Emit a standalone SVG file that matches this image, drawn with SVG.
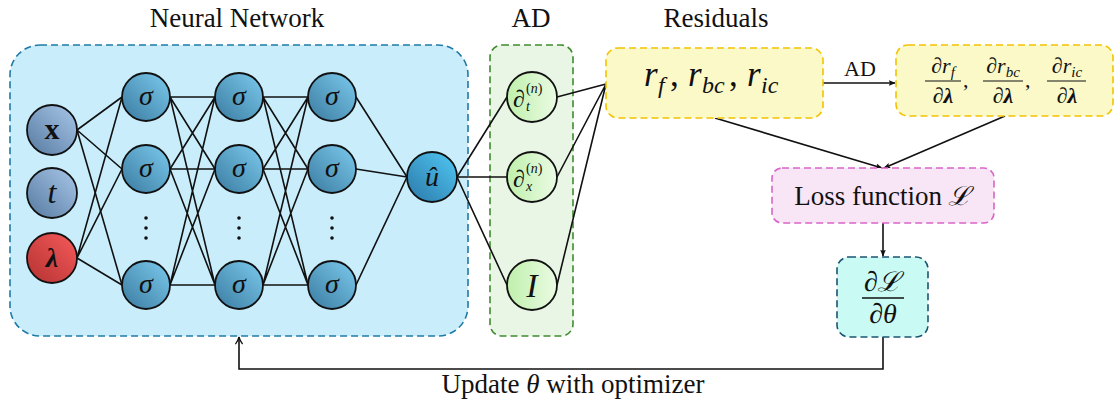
<svg xmlns="http://www.w3.org/2000/svg" width="1115" height="403" viewBox="0 0 1115 403" font-family="'Liberation Serif', Tinos, 'Nimbus Roman', 'Times New Roman', Times, FreeSerif, 'Noto Serif', 'DejaVu Serif', serif">
  <style>
    text { font-family: "Liberation Serif", Tinos, "Nimbus Roman", "Times New Roman", Times, FreeSerif, "Noto Serif", "DejaVu Serif", serif; fill: #111; }
    .title { font-size: 27px; text-anchor: middle; }
    .math { font-style: italic; }
    .node { stroke: #111; stroke-width: 1.8; }
    .edge { stroke: #111; stroke-width: 1.6; fill: none; }
    .nnbox { fill: #c9edfb; stroke: #1f7aa6; stroke-width: 1.6; stroke-dasharray: 7 4; }
    .adbox { fill: #e9f6e5; stroke: #3f8a2f; stroke-width: 1.6; stroke-dasharray: 7 4; }
    .resbox { fill: #fbf9c8; stroke: #f3c200; stroke-width: 1.6; stroke-dasharray: 7 4; }
    .lossbox { fill: #f8e5f5; stroke: #d964c9; stroke-width: 1.6; stroke-dasharray: 7 4; }
    .gradbox { fill: #c9fbf4; stroke: #1b5470; stroke-width: 1.6; stroke-dasharray: 7 4; }
  </style>
  <defs>
    <linearGradient id="gSigma" x1="1" y1="0" x2="0" y2="1">
      <stop offset="0" stop-color="#7ccbee"/>
      <stop offset="1" stop-color="#3a7aa0"/>
    </linearGradient>
    <linearGradient id="gIn" x1="1" y1="0" x2="0" y2="1">
      <stop offset="0" stop-color="#a9c8ea"/>
      <stop offset="1" stop-color="#56799f"/>
    </linearGradient>
    <linearGradient id="gLam" x1="1" y1="0" x2="0" y2="1">
      <stop offset="0" stop-color="#f65a5a"/>
      <stop offset="1" stop-color="#b43232"/>
    </linearGradient>
    <linearGradient id="gOut" x1="1" y1="0" x2="0" y2="1">
      <stop offset="0" stop-color="#52c8f4"/>
      <stop offset="1" stop-color="#2a78a8"/>
    </linearGradient>
    <linearGradient id="gAD" x1="0" y1="0" x2="1" y2="0">
      <stop offset="0" stop-color="#bff0ac"/>
      <stop offset="1" stop-color="#ebfbe4"/>
    </linearGradient>
    <marker id="arrowFill" viewBox="0 0 10 10" refX="9" refY="5" markerWidth="7" markerHeight="7" markerUnits="userSpaceOnUse" orient="auto">
      <path d="M0,1 L10,5 L0,9 L2,5 Z" fill="#111"/>
    </marker>
    <marker id="arrowOpen" viewBox="0 0 10 10" refX="9" refY="5" markerWidth="9" markerHeight="9" markerUnits="userSpaceOnUse" orient="auto">
      <path d="M1,1 Q5,4 9,5 Q5,6 1,9" fill="none" stroke="#111" stroke-width="1.4"/>
    </marker>
  </defs>

  <!-- section titles -->
  <text class="title" x="237" y="27">Neural Network</text>
  <text class="title" x="531" y="27">AD</text>
  <text class="title" x="716" y="27">Residuals</text>

  <!-- background panels -->
  <g id="nn-panel"><rect class="nnbox" x="10" y="45" width="458" height="291" rx="30"/></g>
  <g id="ad-panel"><rect class="adbox" x="490" y="45" width="83" height="291" rx="12"/></g>

  <!-- connectors -->
  <g id="connectors">
    <!-- inputs to hidden layer 1 -->
    <path class="edge" d="M77,130 L122,97 M77,130 L122,169 M77,130 L122,285"/>
    <path class="edge" d="M77,258 L122,97 M77,258 L122,169 M77,258 L122,285"/>
    <!-- hidden layer 1 to hidden layer 2 -->
    <path class="edge" d="M170,97 L215,97 M170,97 L215,169 M170,97 L215,285
                          M170,169 L215,97 M170,169 L215,169 M170,169 L215,285
                          M170,285 L215,97 M170,285 L215,169 M170,285 L215,285"/>
    <!-- hidden layer 2 to hidden layer 3 -->
    <path class="edge" d="M263,97 L308,97 M263,97 L308,169 M263,97 L308,285
                          M263,169 L308,97 M263,169 L308,169 M263,169 L308,285
                          M263,285 L308,97 M263,285 L308,169 M263,285 L308,285"/>
    <!-- hidden layer 3 to output -->
    <path class="edge" d="M356,97 L407,177 M356,169 L407,177 M356,285 L407,177"/>
    <!-- output to AD operators -->
    <path class="edge" d="M457,177 L507,97 M457,177 L507,177 M457,177 L507,285"/>
    <!-- AD operators to residuals -->
    <path class="edge" d="M557,97 L606,84 M557,177 L606,84 M557,285 L606,84"/>
    <!-- residuals to derivatives -->
    <path class="edge" d="M823,83 L895,83" marker-end="url(#arrowFill)"/>
    <text x="860" y="76" font-size="22" text-anchor="middle">AD</text>
    <!-- into loss -->
    <path class="edge" d="M715,118 L882,168" marker-end="url(#arrowFill)"/>
    <path class="edge" d="M1005,116 L884,168" marker-end="url(#arrowFill)"/>
    <path class="edge" d="M883,223 L883,256" marker-end="url(#arrowFill)"/>
    <!-- feedback to network -->
    <path class="edge" d="M883,337 V369 H239 V337" marker-end="url(#arrowOpen)"/>
    <text x="573" y="393" font-size="27" text-anchor="middle">Update <tspan class="math">θ</tspan> with optimizer</text>
  </g>

  <!-- input layer -->
  <g id="in-x"><circle class="node" cx="52" cy="130" r="25" fill="url(#gIn)"/>
    <text x="52" y="139" font-size="30" font-weight="bold" text-anchor="middle">x</text></g>
  <g id="in-t"><circle class="node" cx="52" cy="193" r="25" fill="url(#gIn)"/>
    <text class="math" x="52" y="203" font-size="32" text-anchor="middle">t</text></g>
  <g id="in-lambda"><circle class="node" cx="52" cy="258" r="25" fill="url(#gLam)"/>
    <text class="math" x="52" y="267" font-size="28" font-weight="bold" text-anchor="middle">λ</text></g>

  <!-- hidden layer 1 -->
  <g id="h1-1"><circle class="node" cx="146" cy="97" r="24" fill="url(#gSigma)"/><text class="math" x="146" y="105" font-size="28" text-anchor="middle">σ</text></g>
  <g id="h1-2"><circle class="node" cx="146" cy="169" r="24" fill="url(#gSigma)"/><text class="math" x="146" y="177" font-size="28" text-anchor="middle">σ</text></g>
  <g id="h1-dots"><circle cx="146" cy="218" r="1.8" fill="#111"/><circle cx="146" cy="228" r="1.8" fill="#111"/><circle cx="146" cy="238" r="1.8" fill="#111"/></g>
  <g id="h1-3"><circle class="node" cx="146" cy="285" r="24" fill="url(#gSigma)"/><text class="math" x="146" y="293" font-size="28" text-anchor="middle">σ</text></g>

  <!-- hidden layer 2 -->
  <g id="h2-1"><circle class="node" cx="239" cy="97" r="24" fill="url(#gSigma)"/><text class="math" x="239" y="105" font-size="28" text-anchor="middle">σ</text></g>
  <g id="h2-2"><circle class="node" cx="239" cy="169" r="24" fill="url(#gSigma)"/><text class="math" x="239" y="177" font-size="28" text-anchor="middle">σ</text></g>
  <g id="h2-dots"><circle cx="239" cy="218" r="1.8" fill="#111"/><circle cx="239" cy="228" r="1.8" fill="#111"/><circle cx="239" cy="238" r="1.8" fill="#111"/></g>
  <g id="h2-3"><circle class="node" cx="239" cy="285" r="24" fill="url(#gSigma)"/><text class="math" x="239" y="293" font-size="28" text-anchor="middle">σ</text></g>

  <!-- hidden layer 3 -->
  <g id="h3-1"><circle class="node" cx="332" cy="97" r="24" fill="url(#gSigma)"/><text class="math" x="332" y="105" font-size="28" text-anchor="middle">σ</text></g>
  <g id="h3-2"><circle class="node" cx="332" cy="169" r="24" fill="url(#gSigma)"/><text class="math" x="332" y="177" font-size="28" text-anchor="middle">σ</text></g>
  <g id="h3-dots"><circle cx="332" cy="218" r="1.8" fill="#111"/><circle cx="332" cy="228" r="1.8" fill="#111"/><circle cx="332" cy="238" r="1.8" fill="#111"/></g>
  <g id="h3-3"><circle class="node" cx="332" cy="285" r="24" fill="url(#gSigma)"/><text class="math" x="332" y="293" font-size="28" text-anchor="middle">σ</text></g>

  <!-- network output -->
  <g id="out-u"><circle class="node" cx="432" cy="177" r="25" fill="url(#gOut)"/>
    <text class="math" x="432" y="186" font-size="28" text-anchor="middle">û</text></g>

  <!-- AD operators -->
  <g id="ad-dt"><circle class="node" cx="532" cy="97" r="25" fill="url(#gAD)"/>
    <text class="math" x="513" y="107" font-size="24">∂</text>
    <text class="math" x="526" y="111" font-size="14">t</text>
    <text x="526" y="93" font-size="14">(<tspan class="math">n</tspan>)</text></g>
  <g id="ad-dx"><circle class="node" cx="532" cy="177" r="25" fill="url(#gAD)"/>
    <text class="math" x="513" y="187" font-size="24">∂</text>
    <text class="math" x="526" y="191" font-size="14">x</text>
    <text x="526" y="173" font-size="14">(<tspan class="math">n</tspan>)</text></g>
  <g id="ad-id"><circle class="node" cx="532" cy="285" r="25" fill="url(#gAD)"/>
    <text class="math" x="532" y="297" font-size="34" text-anchor="middle">I</text></g>

  <!-- residuals -->
  <g id="residuals"><rect class="resbox" x="606" y="48" width="217" height="70" rx="12"/>
    <text class="math" font-size="35">
      <tspan x="644" y="86">r</tspan><tspan x="658" y="93" font-size="24">f</tspan><tspan x="670" y="86" font-style="normal">,</tspan>
      <tspan x="688" y="86">r</tspan><tspan x="702" y="93" font-size="24">bc</tspan><tspan x="729" y="86" font-style="normal">,</tspan>
      <tspan x="747" y="86">r</tspan><tspan x="761" y="93" font-size="24">ic</tspan>
    </text></g>

  <!-- residual sensitivities -->
  <g id="sensitivities"><rect class="resbox" x="896" y="45" width="217" height="71" rx="12"/>
    <text class="math" x="943" y="73" font-size="22" text-anchor="middle">∂r<tspan dy="4" font-size="15">f</tspan></text>
    <line x1="925" y1="81" x2="961" y2="81" stroke="#111" stroke-width="1.2"/>
    <text class="math" x="943" y="103" font-size="22" text-anchor="middle">∂<tspan font-weight="bold">λ</tspan></text>
    <text x="963" y="87" font-size="22">,</text>
    <text class="math" x="1003" y="73" font-size="22" text-anchor="middle">∂r<tspan dy="4" font-size="15">bc</tspan></text>
    <line x1="983" y1="81" x2="1023" y2="81" stroke="#111" stroke-width="1.2"/>
    <text class="math" x="1003" y="103" font-size="22" text-anchor="middle">∂<tspan font-weight="bold">λ</tspan></text>
    <text x="1025" y="87" font-size="22">,</text>
    <text class="math" x="1067" y="73" font-size="22" text-anchor="middle">∂r<tspan dy="4" font-size="15">ic</tspan></text>
    <line x1="1047" y1="81" x2="1086" y2="81" stroke="#111" stroke-width="1.2"/>
    <text class="math" x="1067" y="103" font-size="22" text-anchor="middle">∂<tspan font-weight="bold">λ</tspan></text></g>

  <!-- loss -->
  <g id="loss"><rect class="lossbox" x="772" y="168" width="222" height="55" rx="10"/>
    <text x="883" y="205" font-size="27" text-anchor="middle">Loss function <tspan class="math">ℒ</tspan></text></g>

  <!-- gradient -->
  <g id="gradient"><rect class="gradbox" x="837" y="257" width="91" height="80" rx="12"/>
    <text class="math" x="883" y="291" font-size="28" text-anchor="middle">∂ℒ</text>
    <line x1="862" y1="298" x2="904" y2="298" stroke="#111" stroke-width="1.4"/>
    <text class="math" x="883" y="323" font-size="28" text-anchor="middle">∂θ</text></g>
</svg>
